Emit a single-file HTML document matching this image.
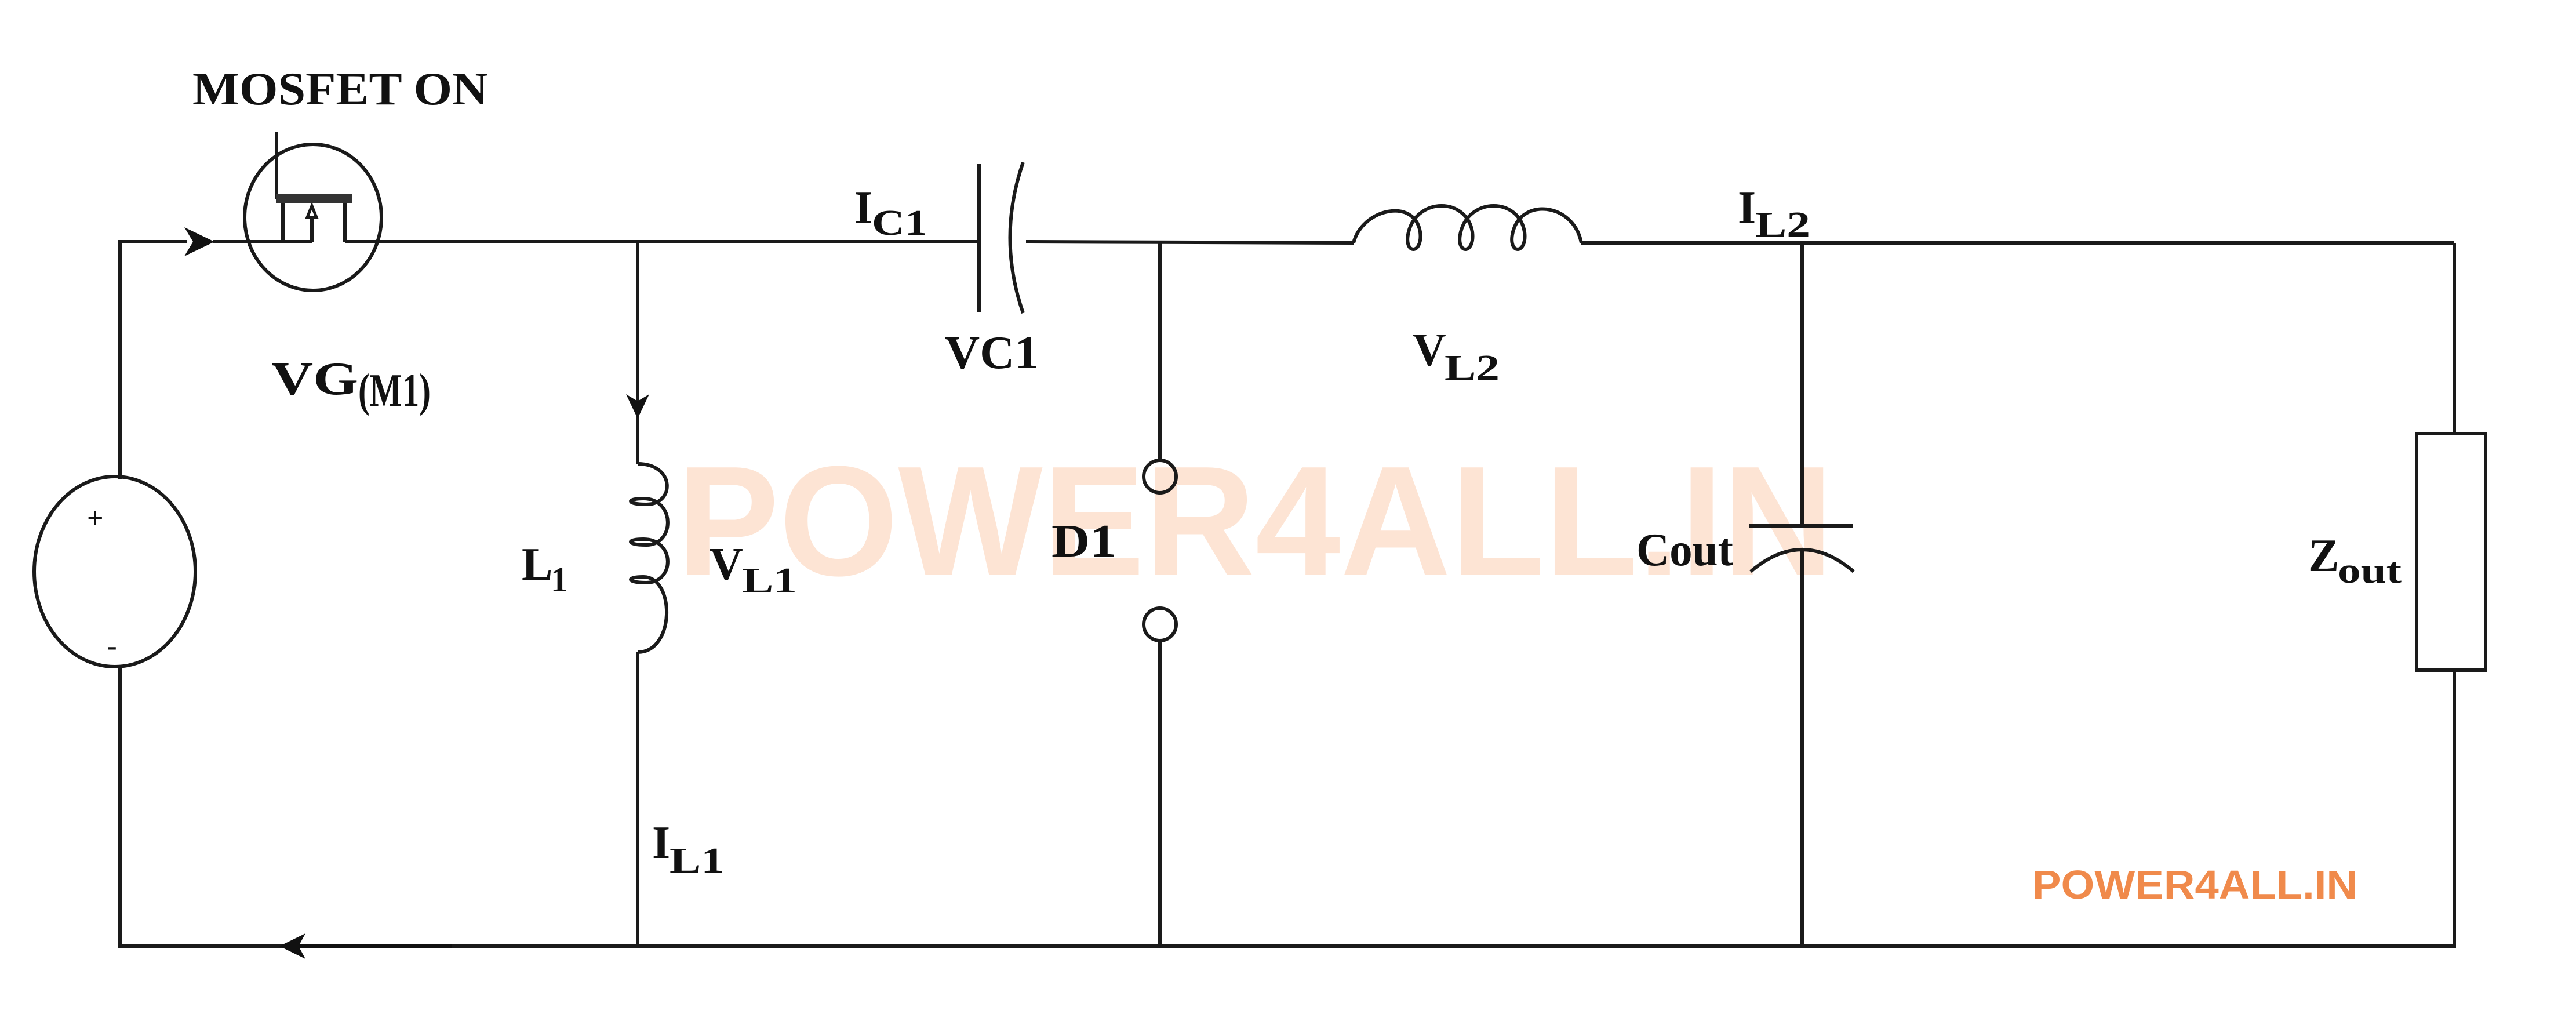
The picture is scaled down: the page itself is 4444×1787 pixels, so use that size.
<!DOCTYPE html>
<html><head><meta charset="utf-8"><style>html,body{margin:0;padding:0;background:#fff}svg{display:block}</style></head>
<body>
<svg width="4444" height="1787" viewBox="0 0 4444 1787" xmlns="http://www.w3.org/2000/svg">
<rect width="4444" height="1787" fill="#fff"/>
<text x="1168" y="992" font-family="Liberation Sans, sans-serif" font-weight="bold" font-size="270" fill="#fde4d4" textLength="1995" lengthAdjust="spacingAndGlyphs">POWER4ALL.IN</text>
<g stroke="#1a1a1a" stroke-width="6" fill="none">
<polyline points="207,826 207,417 322,417"/>
<line x1="367" y1="417" x2="420" y2="417"/>
<line x1="660" y1="417" x2="1689" y2="417"/>
<line x1="1770" y1="417" x2="2335" y2="419"/>
<line x1="2728" y1="419" x2="4234" y2="419"/>
<polyline points="4234,419 4234,748"/>
<rect x="4169" y="748" width="119" height="408"/>
<polyline points="4234,1156 4234,1632 207,1632 207,1148"/>
<ellipse cx="198" cy="986" rx="139" ry="164"/>
<ellipse cx="540" cy="375" rx="118" ry="126"/>
<line x1="420" y1="417" x2="538" y2="417"/>
<line x1="595" y1="417" x2="660" y2="417"/>
<line x1="477" y1="227" x2="477" y2="343"/>
<line x1="488" y1="350" x2="488" y2="417"/>
<line x1="595" y1="350" x2="595" y2="417"/>
<line x1="538" y1="417" x2="538" y2="378"/>
<path d="M538,355 L530,375 L546,375 Z" stroke-width="5"/>
<line x1="1100" y1="417" x2="1100" y2="800"/>
<path d="M1100,800 C1165,800 1165,870 1115,870 C1080,870 1080,860 1110,860 C1165,860 1165,940 1115,940 C1080,940 1080,930 1110,930 C1165,930 1165,1005 1115,1005 C1080,1005 1080,995 1110,995 C1165,995 1165,1125 1100,1125"/>
<line x1="1100" y1="1125" x2="1100" y2="1632"/>
<line x1="1689" y1="283" x2="1689" y2="538"/>
<path d="M1765,280 Q1720,410 1765,540"/>
<line x1="2001" y1="419" x2="2001" y2="794"/>
<circle cx="2001" cy="822" r="28"/>
<circle cx="2001" cy="1077" r="28"/>
<line x1="2001" y1="1105" x2="2001" y2="1632"/>
<path d="M2335,419 C2350,360 2440,340 2450,400 C2455,440 2420,440 2430,400 C2445,340 2530,340 2540,400 C2545,440 2510,440 2520,400 C2535,340 2620,340 2630,400 C2635,440 2600,440 2610,400 C2625,340 2715,350 2728,419"/>
<line x1="3109" y1="419" x2="3109" y2="907"/>
<line x1="3018" y1="907" x2="3197" y2="907"/>
<path d="M3020,986 Q3109,910 3198,986"/>
<line x1="3109" y1="950" x2="3109" y2="1632"/>
</g>
<rect x="477" y="335" width="131" height="16" fill="#333"/>
<path d="M318,392 L370,417 L318,442 L333,417 Z" fill="#111"/>
<path d="M1100,722 L1080,680 L1100,692 L1120,680 Z" fill="#111"/>
<line x1="500" y1="1632" x2="780" y2="1632" stroke="#111" stroke-width="8"/>
<path d="M482,1632 L527,1610 L515,1632 L527,1654 Z" fill="#111"/>
<g font-family="Liberation Serif, serif" font-weight="bold" fill="#111" font-size="80">
<text x="150" y="910" font-size="50">+</text>
<text x="185" y="1130" font-size="50">-</text>
<text x="332" y="180" textLength="510" lengthAdjust="spacingAndGlyphs">MOSFET ON</text>
<text x="468" y="680" textLength="150" lengthAdjust="spacingAndGlyphs">VG</text><text x="618" y="700" textLength="125" lengthAdjust="spacingAndGlyphs">(M1)</text>
<text x="900" y="1000">L</text><text x="950" y="1020" font-size="60">1</text>
<text x="1224" y="1000">V</text><text x="1280" y="1022" font-size="62" textLength="95" lengthAdjust="spacingAndGlyphs">L1</text>
<text x="1125" y="1480">I</text><text x="1155" y="1505" font-size="62" textLength="95" lengthAdjust="spacingAndGlyphs">L1</text>
<text x="1474" y="385">I</text><text x="1504" y="405" font-size="62" textLength="96" lengthAdjust="spacingAndGlyphs">C1</text>
<text x="1630" y="635" textLength="162" lengthAdjust="spacingAndGlyphs">VC1</text>
<text x="1814" y="960" textLength="112" lengthAdjust="spacingAndGlyphs">D1</text>
<text x="2437" y="630">V</text><text x="2492" y="655" font-size="62" textLength="95" lengthAdjust="spacingAndGlyphs">L2</text>
<text x="2998" y="385">I</text><text x="3028" y="408" font-size="62" textLength="95" lengthAdjust="spacingAndGlyphs">L2</text>
<text x="2823" y="975" textLength="167" lengthAdjust="spacingAndGlyphs">Cout</text>
<text x="3982" y="985">Z</text><text x="4033" y="1005" font-size="62" textLength="110" lengthAdjust="spacingAndGlyphs">out</text>
</g>
<text x="3506" y="1550" font-family="Liberation Sans, sans-serif" font-weight="bold" font-size="70" fill="#f08a4b" textLength="561" lengthAdjust="spacingAndGlyphs">POWER4ALL.IN</text>
</svg>
</body></html>
